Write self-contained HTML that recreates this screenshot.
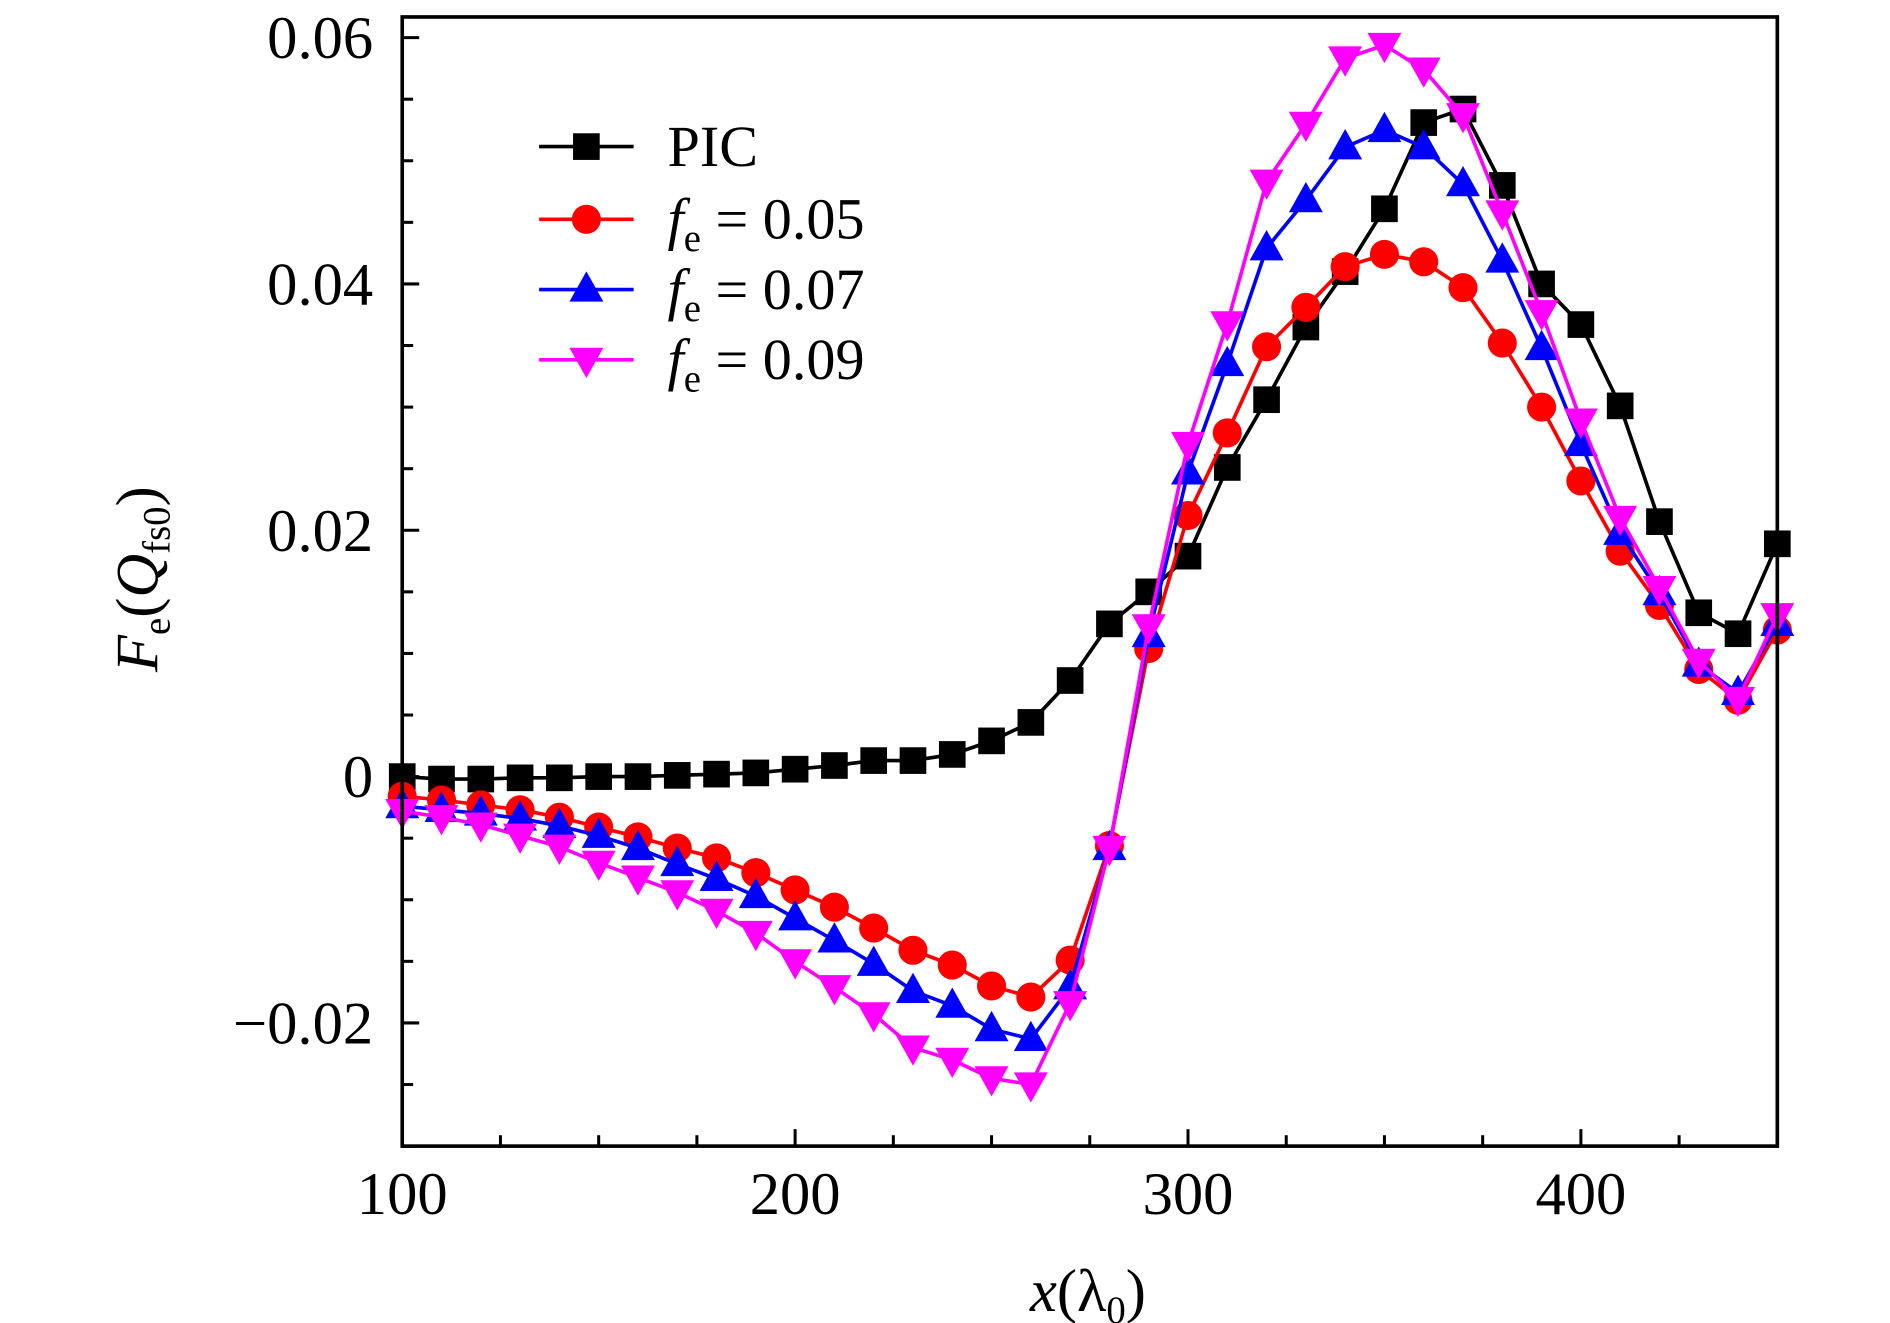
<!DOCTYPE html>
<html><head><meta charset="utf-8"><style>
html,body{margin:0;padding:0;background:#fff;}
svg{display:block;font-family:"Liberation Serif",serif;}
</style></head><body>
<svg id="chart" width="1890" height="1323" viewBox="0 0 1560 1092" preserveAspectRatio="none" xmlns="http://www.w3.org/2000/svg">
<rect x="0" y="0" width="1560" height="1092" fill="#fff"/>
<g id="marks"></g>
<g id="axes"></g>
</svg>
<script>
const xValues=[100,110,120,130,140,150,160,170,180,190,200,210,220,230,240,250,260,270,280,290,300,310,320,330,340,350,360,370,380,390,400,410,420,430,440,450];
const picValues=[0,-0.0002,-0.0002,-0.0001,-0.0001,0,0,0.0001,0.0002,0.0003,0.0006,0.0009,0.0013,0.0013,0.0018,0.0029,0.0044,0.0078,0.0124,0.015,0.0179,0.0251,0.0306,0.0365,0.041,0.0461,0.0531,0.0542,0.048,0.040,0.0367,0.0301,0.0207,0.0133,0.0116,0.0189];
const fe005Values=[-0.0016,-0.0019,-0.0023,-0.0027,-0.0033,-0.0041,-0.0049,-0.0058,-0.0066,-0.0078,-0.0092,-0.0106,-0.0123,-0.0141,-0.0153,-0.017,-0.0179,-0.0149,-0.0056,0.0104,0.0212,0.0279,0.0349,0.0381,0.0414,0.0424,0.0418,0.0397,0.0352,0.030,0.024,0.0183,0.0139,0.0087,0.0062,0.0119];
const fe007Values=[-0.0024,-0.0027,-0.003,-0.0034,-0.004,-0.0048,-0.0058,-0.0071,-0.0083,-0.0097,-0.0115,-0.0133,-0.0152,-0.0174,-0.0186,-0.0205,-0.0213,-0.0171,-0.0058,0.0115,0.0247,0.0335,0.0429,0.0468,0.0511,0.0525,0.0511,0.0481,0.0419,0.0348,0.027,0.0198,0.0149,0.0091,0.0068,0.0124];
const fe009Values=[-0.0028,-0.0033,-0.0039,-0.0048,-0.0057,-0.007,-0.0082,-0.0094,-0.0109,-0.0127,-0.015,-0.0171,-0.0193,-0.022,-0.023,-0.0245,-0.025,-0.0184,-0.0058,0.0122,0.027,0.0368,0.0483,0.053,0.0583,0.0594,0.0574,0.0537,0.0458,0.0377,0.0289,0.021,0.0153,0.0094,0.0063,0.0131];
const xTickLabels=["100","200","300","400"];
const xTickValues=[100,200,300,400];
const yTickValues=[-0.02,0,0.02,0.04,0.06];
const yTickLabels=["\u22120.02","0","0.02","0.04","0.06"];

const NS="http://www.w3.org/2000/svg";
const L=332,R=1467,T=14,B=946;
const xS=v=>L+(v-100)*(R-L)/350;
const yS=v=>641-v*10166;
function mk(tag,attrs,parent){const e=document.createElementNS(NS,tag);for(const k in attrs)e.setAttribute(k,attrs[k]);parent.appendChild(e);return e;}
const marks=document.getElementById('marks'),axes=document.getElementById('axes');

function marker(shape,cx,cy,color,parent){
  let e;
  if(shape==='square')e=mk('rect',{x:cx-11,y:cy-11,width:22,height:22,fill:color},parent);
  else if(shape==='circle')e=mk('circle',{cx:cx,cy:cy,r:12,fill:color},parent);
  else if(shape==='up')e=mk('polygon',{points:`${cx},${cy-15} ${cx+14},${cy+10} ${cx-14},${cy+10}`,fill:color},parent);
  else e=mk('polygon',{points:`${cx},${cy+15} ${cx+14},${cy-10} ${cx-14},${cy-10}`,fill:color},parent);
  return e;
}
const series=[
 {name:'pic',vals:picValues,color:'#000',shape:'square',label:'PIC'},
 {name:'fe-0.05',vals:fe005Values,color:'#f00',shape:'circle',label:'0.05'},
 {name:'fe-0.07',vals:fe007Values,color:'#00f',shape:'up',label:'0.07'},
 {name:'fe-0.09',vals:fe009Values,color:'#f0f',shape:'down',label:'0.09'}
];
series.forEach(s=>{
  const g=mk('g',{},marks);
  
  
  const pl=mk('polyline',{points:xValues.map((x,i)=>xS(x)+','+yS(s.vals[i])).join(' '),fill:'none',stroke:s.color,'stroke-width':3},g);
  
  
  xValues.forEach((x,i)=>{
    const m=marker(s.shape,xS(x),yS(s.vals[i]),s.color,g);
    
    
  });
});
const fr=mk('rect',{x:L,y:T,width:R-L,height:B-T,fill:'none',stroke:'#000','stroke-width':3},axes);


for(let v=100;v<=450;v+=25){
  const major=(v%100===0);
  const t=mk('line',{x1:xS(v),x2:xS(v),y1:B,y2:B-(major?14:9),stroke:'#000','stroke-width':2.5},axes);
  
  
}
xTickValues.forEach((v,i)=>{
  const t=mk('text',{x:xS(v),y:1002,'font-size':50,'text-anchor':'middle'},axes);
  t.textContent=xTickLabels[i];
  
  
});
for(let k=-6;k<=12;k++){
  const v=k*0.005;const major=(k%4===0);
  const t=mk('line',{x1:L,x2:L+(major?14:9),y1:yS(v),y2:yS(v),stroke:'#000','stroke-width':2.5},axes);
  
  
}
yTickValues.forEach((v,i)=>{
  const t=mk('text',{x:308,y:yS(v)+17,'font-size':50,'text-anchor':'end'},axes);
  t.textContent=yTickLabels[i];
  
  
});
const xt=mk('text',{x:898,y:1082,'font-size':50,'text-anchor':'middle'},axes);
xt.innerHTML='<tspan font-style="italic">x</tspan>(λ<tspan font-size="32" dy="10">0</tspan><tspan dy="-10">)</tspan>';


const yt=mk('text',{x:0,y:0,'font-size':50,'text-anchor':'middle',transform:'translate(130,478) rotate(-90)'},axes);
yt.innerHTML='<tspan font-style="italic">F</tspan><tspan font-size="32" dy="10">e</tspan><tspan dy="-10">(</tspan><tspan font-style="italic">Q</tspan><tspan font-size="32" dy="10">fs0</tspan><tspan dy="-10">)</tspan>';


const lg=mk('g',{},axes);


const rows=[121,181,239,297];
series.forEach((s,i)=>{
  const g=mk('g',{},lg);
  
  
  mk('line',{x1:445,x2:523,y1:rows[i],y2:rows[i],stroke:s.color,'stroke-width':3},g);
  marker(s.shape,484,rows[i],s.color,g);
  const t=mk('text',{x:551,y:rows[i]+16,'font-size':48},g);
  if(i===0)t.textContent='PIC';
  else t.innerHTML='<tspan font-style="italic">f</tspan><tspan font-size="32" dy="10">e</tspan><tspan dy="-10"> = </tspan>'+s.label;
});
</script>
</body></html>
